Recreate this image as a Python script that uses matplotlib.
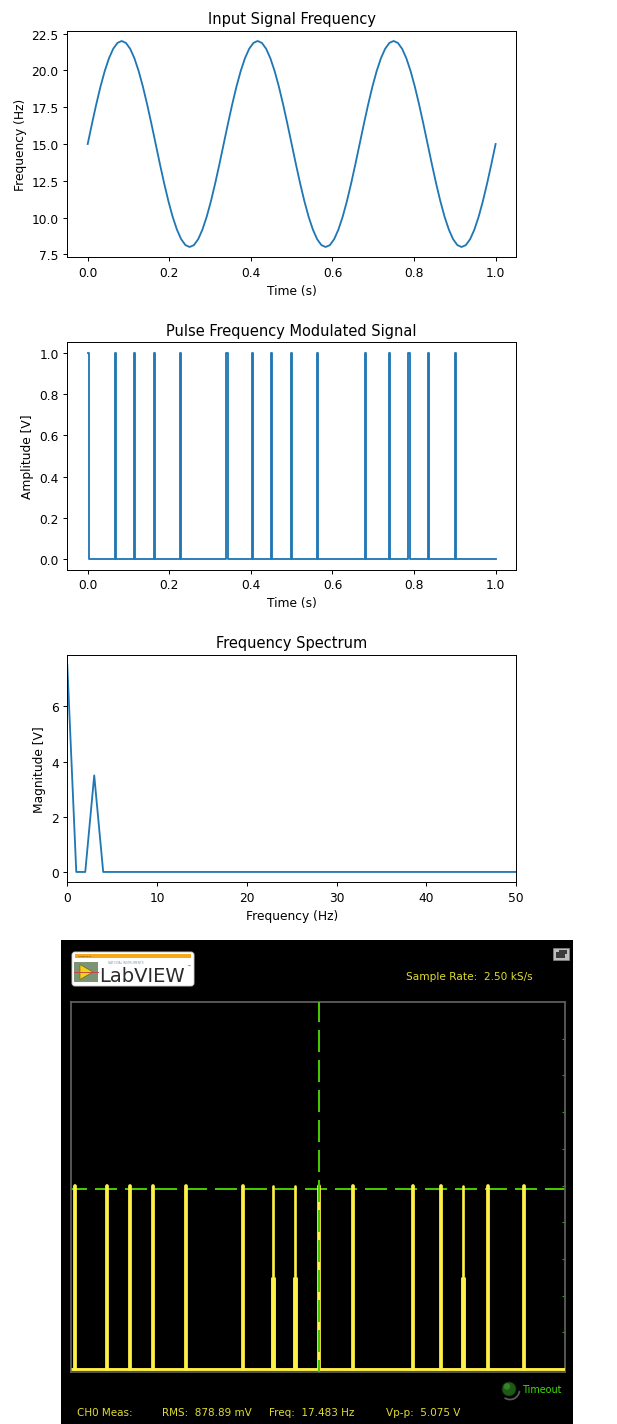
import numpy as np
import matplotlib
matplotlib.use("Agg")
import matplotlib.pyplot as plt
from matplotlib.patches import Rectangle, FancyBboxPatch, Polygon, Circle, Arc

# ---------------- data ----------------
# Input signal frequency (Hz), sampled every 1/96 s over 0..1 s
input_freq = [
    15.0, 16.37, 17.68, 18.89, 19.95, 20.82, 21.47, 21.87, 22.0, 21.87, 21.47, 20.82, 19.95, 18.89, 17.68, 16.37,
    15.0, 13.63, 12.32, 11.11, 10.05, 9.18, 8.53, 8.13, 8.0, 8.13, 8.53, 9.18, 10.05, 11.11, 12.32, 13.63,
    15.0, 16.37, 17.68, 18.89, 19.95, 20.82, 21.47, 21.87, 22.0, 21.87, 21.47, 20.82, 19.95, 18.89, 17.68, 16.37,
    15.0, 13.63, 12.32, 11.11, 10.05, 9.18, 8.53, 8.13, 8.0, 8.13, 8.53, 9.18, 10.05, 11.11, 12.32, 13.63,
    15.0, 16.37, 17.68, 18.89, 19.95, 20.82, 21.47, 21.87, 22.0, 21.87, 21.47, 20.82, 19.95, 18.89, 17.68, 16.37,
    15.0, 13.63, 12.32, 11.11, 10.05, 9.18, 8.53, 8.13, 8.0, 8.13, 8.53, 9.18, 10.05, 11.11, 12.32, 13.63,
    15.0,
]
input_time = np.linspace(0.0, 1.0, len(input_freq))
input_yticks = [7.5, 10.0, 12.5, 15.0, 17.5, 20.0, 22.5]

# PFM pulse start times (s), pulse duration (s), signal end (s)
pulse_times = [0.0, 0.067, 0.114, 0.162, 0.226, 0.340, 0.403, 0.449, 0.498, 0.562,
               0.679, 0.739, 0.786, 0.834, 0.900]
pulse_duration = 0.003
signal_end = 1.0

# Frequency spectrum
spec_freq = list(range(0, 51))
spec_mag = [7.5, 0.0, 0.0, 3.5, 0.0] + [0.0] * 46
spec_yticks = [0, 2, 4, 6]

# LabVIEW scope capture (time in ms, amplitude in V)
scope_times = [0.8, 7.3, 11.9, 16.7, 23.3, 34.8, 40.8, 45.4, 50.3, 57.1,
               69.3, 74.8, 79.3, 84.4, 91.8]
scope_peak = 5.0
partial_times = [40.8, 45.4, 79.3]
partial_level = 2.5
cursor_level = 4.9
cursor_time = 50.2
scope_ticks = [1, 2, 3, 4, 5, 6, 7, 8, 9]

# ---------------- figure ----------------
W, H = 617, 1425
DPI = 88
fig = plt.figure(figsize=(W / DPI, H / DPI), dpi=DPI)
k = 80 / DPI  # panel sizes were tuned in 80-dpi points


def px_axes(left, top, right, bottom, **kw):
    return fig.add_axes([left / W, 1 - bottom / H, (right - left) / W, (bottom - top) / H], **kw)


blue = "#1f77b4"

ax1 = px_axes(67.3, 31.7, 516, 258.3)
ax1.plot(input_time, input_freq, color=blue)
ax1.set_yticks(input_yticks)
ax1.set_title("Input Signal Frequency")
ax1.set_xlabel("Time (s)")
ax1.set_ylabel("Frequency (Hz)")

# build PFM trace from pulse times
px, py = [], []
for i, s in enumerate(pulse_times):
    if i == 0:
        px += [s, s + pulse_duration, s + pulse_duration]
        py += [1, 1, 0]
    else:
        px += [s, s, s + pulse_duration, s + pulse_duration]
        py += [0, 1, 1, 0]
px.append(signal_end)
py.append(0)

ax2 = px_axes(67.3, 343.3, 516, 570.7)
ax2.plot(px, py, color=blue)
ax2.set_title("Pulse Frequency Modulated Signal")
ax2.set_xlabel("Time (s)")
ax2.set_ylabel("Amplitude [V]")

ax3 = px_axes(67.3, 655.7, 516, 883.3)
ax3.plot(spec_freq, spec_mag, color=blue)
ax3.set_xlim(0, 50)
ax3.set_yticks(spec_yticks)
ax3.set_title("Frequency Spectrum")
ax3.set_xlabel("Frequency (Hz)")
ax3.set_ylabel("Magnitude [V]")

# ---------------- LabVIEW panel (pixel overlay) ----------------
bg = fig.add_axes([0, 0, 1, 1], zorder=0)
bg.set_xlim(0, W)
bg.set_ylim(H, 0)
bg.axis("off")
bg.patch.set_alpha(0)

bg.add_patch(Rectangle((61, 941), 512, 484, facecolor="black", edgecolor="none"))
# logo
bg.add_patch(FancyBboxPatch((72, 953), 122, 34, boxstyle="round,pad=0,rounding_size=3",
                            facecolor="white", edgecolor="#cfcfcf", lw=0.8 * k))
bg.add_patch(Rectangle((75, 954.5), 116, 4, facecolor="#F5A81C", edgecolor="none"))
bg.text(78, 956.5, "POWERED BY", fontsize=1.8 * k, color="#5a3a00", va="center", ha="left")
bg.text(108, 962.5, "NATIONAL INSTRUMENTS", fontsize=2.6 * k, color="#8a9aaa", va="center", ha="left")
bg.add_patch(Rectangle((74, 963), 24, 20, facecolor="#7d9474", edgecolor="none"))
bg.plot([74, 98], [973, 973], color="#d04040", lw=0.8 * k)
bg.add_patch(Polygon([(80, 965.5), (80, 980.5), (93, 973)], closed=True,
                     facecolor="#F2D21B", edgecolor="#6a5a10", lw=0.5 * k))
bg.text(99, 976.5, "LabVIEW", fontsize=17.5 * k, color="#2b2b2b", va="center", ha="left")
bg.text(186, 967, "™", fontsize=4 * k, color="#2b2b2b", va="center", ha="left")

# top right icon
bg.add_patch(Rectangle((553, 949), 16, 12, facecolor="#bdbdbd", edgecolor="#888888", lw=0.6 * k))
bg.add_patch(Rectangle((556, 953), 9, 6, facecolor="#3a3a3a", edgecolor="none"))
bg.add_patch(Rectangle((559, 951), 8, 4, facecolor="#3a3a3a", edgecolor="none"))

ytxt = "#E1DD2C"
bg.text(406, 977, "Sample Rate:  2.50 kS/s", fontsize=9.5 * k, color=ytxt, va="center", ha="left")

# LED + Timeout
bg.add_patch(Arc((510, 1391), 19, 19, theta1=5, theta2=125, color="#5a5a5a", lw=1.6 * k))
bg.add_patch(Circle((509, 1390), 7, facecolor="#1d5a12", edgecolor="#0e2e08", lw=0.6 * k))
bg.add_patch(Circle((507, 1387.5), 3.2, facecolor="#3f8a32", edgecolor="none", alpha=0.8))
bg.text(523, 1390, "Timeout", fontsize=8.7 * k, color="#3FE000", va="center", ha="left")

BFS = 9.4 * k
bg.text(77, 1413, "CH0 Meas:", fontsize=BFS, color=ytxt, va="center", ha="left")
bg.text(162, 1413, "RMS:  878.89 mV", fontsize=BFS, color=ytxt, va="center", ha="left")
bg.text(269, 1413, "Freq:  17.483 Hz", fontsize=BFS, color=ytxt, va="center", ha="left")
bg.text(386, 1413, "Vp-p:  5.075 V", fontsize=BFS, color=ytxt, va="center", ha="left")

# scope plot area
sc = px_axes(71, 1003, 565, 1373, zorder=2)
sc.set_facecolor("black")
sc.set_xlim(0, 100)
sc.set_ylim(-0.08, 10)
for sp in sc.spines.values():
    sp.set_color("#5e5e5e")
    sp.set_linewidth(1.6 * k)
sc.set_xticks([])
sc.set_yticks(scope_ticks)
sc.tick_params(axis="y", left=False, right=True, labelleft=False, labelright=False,
               direction="in", length=2.5 * k, width=1 * k, color="#2f9a00")

yellow = "#FFF046"
green = "#45C800"
sc.axhline(cursor_level, color=green, lw=1.8 * k, ls=(3, (11, 4)), zorder=1)
sc.axvline(cursor_time, color=green, lw=1.8 * k, ls=(5, (11, 4)), zorder=4)
full = [t for t in scope_times if t not in partial_times]
sc.vlines(full, 0, scope_peak, colors=yellow, lw=3.4 * k, capstyle="round", zorder=3)
sc.vlines(partial_times, 0, scope_peak, colors=yellow, lw=2.4 * k, capstyle="round", zorder=3)
sc.vlines(partial_times, 0, partial_level, colors=yellow, lw=4.4 * k, zorder=3)
sc.hlines(0, 0, 100, colors=yellow, lw=2.6 * k, zorder=3)

fig.savefig("out.png", dpi=DPI)
